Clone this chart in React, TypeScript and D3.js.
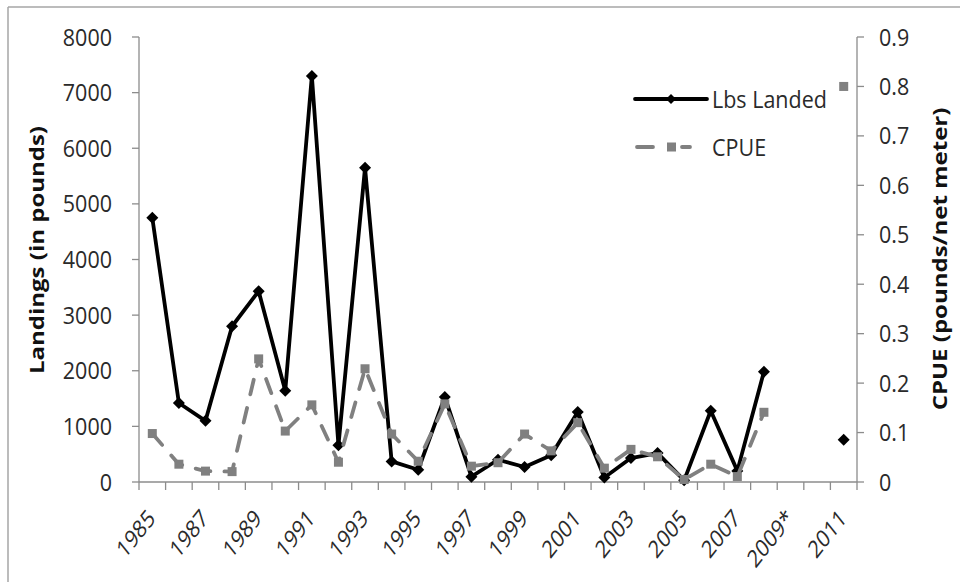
import React from 'react';
import * as d3 from 'd3';

const years = ['1985','1986','1987','1988','1989','1990','1991','1992','1993','1994','1995','1996','1997','1998','1999','2000','2001','2002','2003','2004','2005','2006','2007','2008','2009*','2010','2011'];
const shownLabels = ['1985','1987','1989','1991','1993','1995','1997','1999','2001','2003','2005','2007','2009*','2011'];
const lbsLanded: (number | null)[] = [4750,1420,1100,2800,3430,1640,7300,660,5650,370,220,1530,95,400,270,480,1260,80,430,520,30,1280,200,1980,null,null,760];
const cpue: (number | null)[] = [0.098,0.036,0.022,0.021,0.249,0.103,0.156,0.040,0.229,0.097,0.042,0.158,0.032,0.039,0.097,0.063,0.12,0.028,0.066,0.051,0.005,0.036,0.011,0.141,null,null,0.80];
const leftTicks = [0,1000,2000,3000,4000,5000,6000,7000,8000];
const rightTicks = [0,0.1,0.2,0.3,0.4,0.5,0.6,0.7,0.8,0.9];

const W = 960, H = 582;
const L = 139, R = 857, T = 37, B = 482;
const FONT = '"Open Sans", sans-serif';
const AXIS = '#8c8c8c';
const TXT = '#2a2a2a';

export default function App() {
  const x = d3.scaleBand<string>().domain(years).range([L, R]).padding(0);
  const yL = d3.scaleLinear().domain([0, 8000]).range([B, T]);
  const yR = d3.scaleLinear().domain([0, 0.9]).range([B, T]);
  const cx = (i: number) => (x(years[i]) as number) + x.bandwidth() / 2;

  const lineL = d3.line<number | null>()
    .defined(d => d !== null)
    .x((_, i) => cx(i))
    .y(d => yL(d as number));
  const lineR = d3.line<number | null>()
    .defined(d => d !== null)
    .x((_, i) => cx(i))
    .y(d => yR(d as number));

  const diamond = (px: number, py: number, s: number) =>
    `M${px},${py - s}L${px + s},${py}L${px},${py + s}L${px - s},${py}Z`;

  const bounds = years.map(y => x(y) as number).concat([R]);

  return (
    <svg width={W} height={H} style={{ position: 'absolute', left: 0, top: 0, background: '#fff' }} fontFamily={FONT}>
      <rect x={0} y={0} width={W} height={H} fill="#fff" />
      {/* frame */}
      <line x1={8} y1={7} x2={W} y2={7} stroke="#a6a6a6" strokeWidth={1.5} />
      <line x1={8} y1={7} x2={8} y2={H} stroke="#a6a6a6" strokeWidth={1.5} />

      {/* left axis */}
      <line x1={L} y1={T} x2={L} y2={B} stroke={AXIS} strokeWidth={1.3} />
      {leftTicks.map(t => (
        <g key={'l' + t}>
          <line x1={L - 7} x2={L} y1={yL(t)} y2={yL(t)} stroke={AXIS} strokeWidth={1.3} />
          <text transform={`translate(112,${yL(t)}) scale(1,1.1)`} dy="0.36em" textAnchor="end" fontSize={21.5} fill={TXT}>{t}</text>
        </g>
      ))}
      {/* right axis */}
      <line x1={R} y1={T} x2={R} y2={B} stroke={AXIS} strokeWidth={1.3} />
      {rightTicks.map(t => (
        <g key={'r' + t}>
          <line x1={R} x2={R + 7} y1={yR(t)} y2={yR(t)} stroke={AXIS} strokeWidth={1.3} />
          <text transform={`translate(879,${yR(t)}) scale(1,1.1)`} dy="0.36em" textAnchor="start" fontSize={21.5} fill={TXT}>{t === 0 ? '0' : t.toFixed(1)}</text>
        </g>
      ))}
      {/* x axis */}
      <line x1={L} y1={B} x2={R} y2={B} stroke={AXIS} strokeWidth={1.3} />
      {bounds.map((b, i) => (
        <line key={'xt' + i} x1={b} x2={b} y1={B} y2={B + 8} stroke={AXIS} strokeWidth={1.3} />
      ))}
      {years.map((y, i) => shownLabels.includes(y) ? (
        <text key={'xl' + y} transform={`translate(${cx(i) + 4},${B + 38}) scale(1,1.25) rotate(-45)`} textAnchor="end" fontSize={19.5} fill={TXT}>{y}</text>
      ) : null)}

      {/* axis titles */}
      <text transform={`translate(44,250) rotate(-90) scale(1.2,1)`} textAnchor="middle" fontSize={20} fontWeight="bold" fill="#111">Landings (in pounds)</text>
      <text transform={`translate(947,259) rotate(-90) scale(1.2,1)`} textAnchor="middle" fontSize={20} fontWeight="bold" fill="#111">CPUE (pounds/net meter)</text>

      {/* Lbs Landed */}
      <path d={lineL(lbsLanded) || ''} fill="none" stroke="#000" strokeWidth={3.8} strokeLinejoin="round" />
      {lbsLanded.map((v, i) => v === null ? null : (
        <path key={'d' + i} d={diamond(cx(i), yL(v), 6)} fill="#000" />
      ))}

      {/* CPUE */}
      <path d={lineR(cpue) || ''} fill="none" stroke="#808080" strokeWidth={3.8} strokeDasharray="15 14" strokeLinecap="round" strokeLinejoin="round" />
      {cpue.map((v, i) => v === null ? null : (
        <rect key={'s' + i} x={cx(i) - 4.5} y={yR(v) - 4.5} width={9} height={9} fill="#808080" />
      ))}

      {/* legend */}
      <line x1={635} x2={707} y1={99} y2={99} stroke="#000" strokeWidth={3.8} strokeLinecap="round" />
      <path d={diamond(671, 99, 5)} fill="#000" />
      <text transform="translate(712,99) scale(1,1.1)" dy="0.36em" fontSize={21.5} fill={TXT}>Lbs Landed</text>
      <line x1={637} x2={653} y1={147} y2={147} stroke="#808080" strokeWidth={3.8} strokeLinecap="round" />
      <line x1={682} x2={690} y1={147} y2={147} stroke="#808080" strokeWidth={3.8} strokeLinecap="round" />
      <rect x={667} y={142.5} width={9} height={9} fill="#808080" />
      <text transform="translate(712,147) scale(1,1.1)" dy="0.36em" fontSize={21.5} fill={TXT}>CPUE</text>
    </svg>
  );
}
